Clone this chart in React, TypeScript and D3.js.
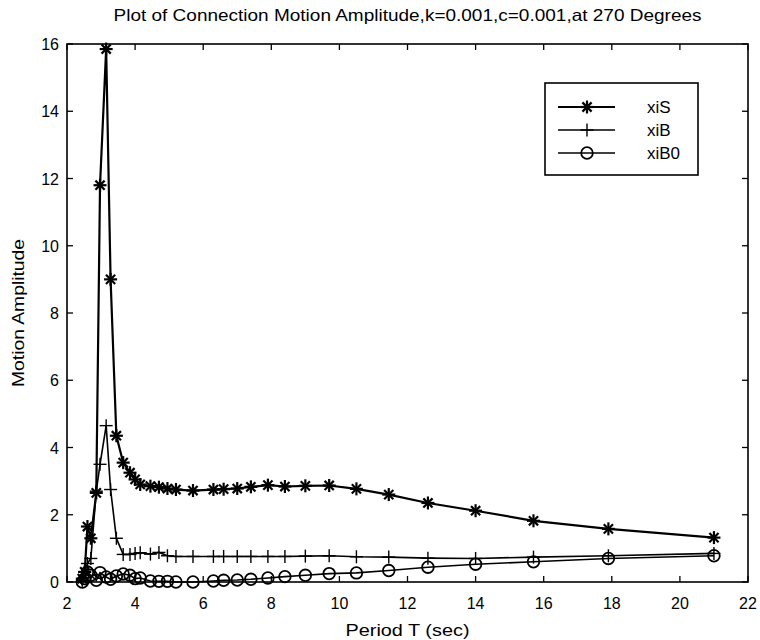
import React from "react";
import * as d3 from "d3";

const periods = [2.45, 2.52, 2.6, 2.7, 2.86, 2.97, 3.15, 3.28, 3.45, 3.65, 3.85, 4.0, 4.15, 4.45, 4.7, 4.95, 5.2, 5.7, 6.3, 6.6, 7.0, 7.4, 7.9, 8.4, 9.0, 9.7, 10.5, 11.45, 12.6, 14.0, 15.7, 17.9, 21.0];
const xiS = [0.1, 0.3, 1.65, 1.3, 2.65, 11.8, 15.85, 9.0, 4.35, 3.55, 3.25, 3.05, 2.9, 2.85, 2.82, 2.78, 2.75, 2.72, 2.75, 2.76, 2.78, 2.83, 2.88, 2.84, 2.86, 2.87, 2.77, 2.6, 2.35, 2.12, 1.82, 1.58, 1.32];
const xiB = [0.05, 0.3, 0.55, 0.7, 2.7, 3.5, 4.65, 2.75, 1.3, 0.82, 0.82, 0.85, 0.87, 0.83, 0.88, 0.78, 0.76, 0.76, 0.76, 0.76, 0.76, 0.76, 0.76, 0.76, 0.77, 0.78, 0.75, 0.74, 0.71, 0.7, 0.74, 0.78, 0.85];
const xiB0 = [0.0, 0.1, 0.3, 0.2, 0.05, 0.28, 0.15, 0.08, 0.18, 0.24, 0.2, 0.1, 0.12, 0.03, 0.02, 0.02, 0.0, 0.0, 0.03, 0.05, 0.06, 0.08, 0.12, 0.16, 0.2, 0.25, 0.27, 0.34, 0.44, 0.53, 0.6, 0.7, 0.78];

const xTicks = [2, 4, 6, 8, 10, 12, 14, 16, 18, 20, 22];
const yTicks = [0, 2, 4, 6, 8, 10, 12, 14, 16];
const seriesNames = ["xiS", "xiB", "xiB0"];
const title = "Plot of Connection Motion Amplitude,k=0.001,c=0.001,at 270 Degrees";

const W = 760, H = 640;
const L = 67, R = 748, T = 44, B = 582;
const font = "'Liberation Sans', Arial, Helvetica, sans-serif";

function Marker({ type, x, y }: { type: string; x: number; y: number }) {
  if (type === "star") {
    const s = 6.5;
    const d = 4.6;
    return (
      <g stroke="#000" strokeWidth={2.2}>
        <line x1={x - s} y1={y} x2={x + s} y2={y} />
        <line x1={x} y1={y - s} x2={x} y2={y + s} />
        <line x1={x - d} y1={y - d} x2={x + d} y2={y + d} />
        <line x1={x - d} y1={y + d} x2={x + d} y2={y - d} />
      </g>
    );
  }
  if (type === "plus") {
    const s = 6.5;
    return (
      <g stroke="#000" strokeWidth={1.4}>
        <line x1={x - s} y1={y} x2={x + s} y2={y} />
        <line x1={x} y1={y - s} x2={x} y2={y + s} />
      </g>
    );
  }
  return <circle cx={x} cy={y} r={5.8} fill="none" stroke="#000" strokeWidth={1.8} />;
}

export default function App() {
  const x = d3.scaleLinear().domain([2, 22]).range([L, R]);
  const y = d3.scaleLinear().domain([0, 16]).range([B, T]);
  const seriesData = [xiS, xiB, xiB0];
  const markerTypes = ["star", "plus", "circle"];
  const line = d3
    .line<number>()
    .x((_, i) => x(periods[i]))
    .y((v) => y(v));

  const legX = 545, legY = 83, legW = 153, legH = 92;

  return (
    <svg width={W} height={H} style={{ position: "absolute", left: 0, top: 0, background: "#fff" }}>
      <rect x={0} y={0} width={W} height={H} fill="#fff" />
      <text x={(L + R) / 2} y={21} textAnchor="middle" fontFamily={font} fontSize={16.5} textLength={588} lengthAdjust="spacingAndGlyphs">
        {title}
      </text>
      {/* axes box */}
      <rect x={L} y={T} width={R - L} height={B - T} fill="none" stroke="#000" strokeWidth={1.6} />
      {xTicks.map((t) => (
        <g key={"xt" + t}>
          <line x1={x(t)} x2={x(t)} y1={B} y2={B - 6} stroke="#000" strokeWidth={1.3} />
          <line x1={x(t)} x2={x(t)} y1={T} y2={T + 6} stroke="#000" strokeWidth={1.3} />
          <text x={x(t)} y={B + 27} textAnchor="middle" fontFamily={font} fontSize={16}>
            {t}
          </text>
        </g>
      ))}
      {yTicks.map((t) => (
        <g key={"yt" + t}>
          <line x1={L} x2={L + 6} y1={y(t)} y2={y(t)} stroke="#000" strokeWidth={1.3} />
          <line x1={R} x2={R - 6} y1={y(t)} y2={y(t)} stroke="#000" strokeWidth={1.3} />
          <text x={L - 8} y={y(t) + 6} textAnchor="end" fontFamily={font} fontSize={16}>
            {t}
          </text>
        </g>
      ))}
      <text x={(L + R) / 2} y={636} textAnchor="middle" fontFamily={font} fontSize={17} textLength={124} lengthAdjust="spacingAndGlyphs">
        Period T (sec)
      </text>
      <text
        transform={`translate(24,${(T + B) / 2}) rotate(-90)`}
        textAnchor="middle"
        fontFamily={font}
        fontSize={17}
        textLength={148}
        lengthAdjust="spacingAndGlyphs"
      >
        Motion Amplitude
      </text>
      {seriesData.map((s, si) => (
        <g key={"s" + si}>
          <path d={line(s) || ""} fill="none" stroke="#000" strokeWidth={si === 0 ? 2.2 : 1.6} />
          {s.map((v, i) => (
            <Marker key={i} type={markerTypes[si]} x={x(periods[i])} y={y(v)} />
          ))}
        </g>
      ))}
      {/* legend */}
      <rect x={legX} y={legY} width={legW} height={legH} fill="#fff" stroke="#000" strokeWidth={1.6} />
      {seriesNames.map((n, i) => {
        const ly = legY + 24 + i * 23;
        return (
          <g key={n}>
            <line x1={legX + 13} x2={legX + 70} y1={ly} y2={ly} stroke="#000" strokeWidth={i === 0 ? 2.2 : 1.6} />
            <Marker type={markerTypes[i]} x={legX + 42} y={ly} />
            <text x={legX + 102} y={ly + 6} fontFamily={font} fontSize={17}>
              {n}
            </text>
          </g>
        );
      })}
    </svg>
  );
}
